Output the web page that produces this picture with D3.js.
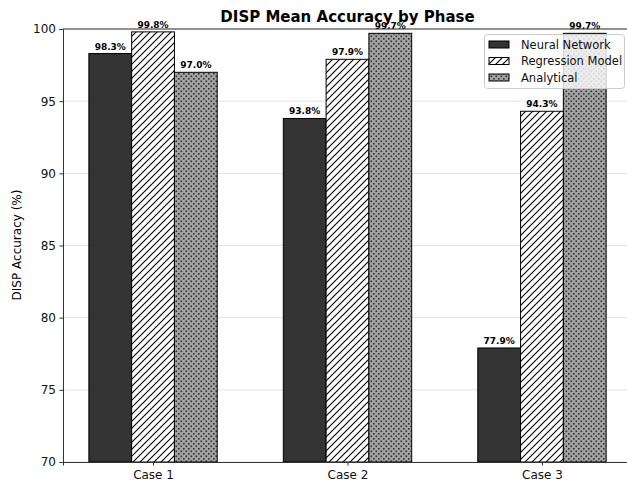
<!DOCTYPE html>
<html><head><meta charset="utf-8">
<script src="https://cdn.jsdelivr.net/npm/d3@7"></script>
<style>body{margin:0;background:#fff}svg{display:block;font-family:"DejaVu Sans",sans-serif}</style>
</head><body><svg id="c" width="627" height="483"></svg>
<script>
const categories = ["Case 1", "Case 2", "Case 3"];
const seriesNames = ["Neural Network", "Regression Model", "Analytical"];
const neuralNetwork = [98.3, 93.8, 77.9];
const regressionModel = [99.8, 97.9, 94.3];
const analytical = [97.0, 99.7, 99.7];
const yTicks = [70, 75, 80, 85, 90, 95, 100];
const series = [neuralNetwork, regressionModel, analytical];

const svg = d3.select("#c");
const defs = svg.append("defs");
const p1 = defs.append("pattern").attr("id","hatchDiag").attr("patternUnits","userSpaceOnUse")
  .attr("width",7).attr("height",7);
p1.append("rect").attr("width",7).attr("height",7).attr("fill","#fff");
p1.append("path").attr("d","M-1,1 L1,-1 M0,7 L7,0 M6,8 L8,6").attr("stroke","#000").attr("stroke-width",1.1);
const p2 = defs.append("pattern").attr("id","hatchDots").attr("patternUnits","userSpaceOnUse")
  .attr("width",5).attr("height",5);
p2.append("rect").attr("width",5).attr("height",5).attr("fill","#a3a3a3");
p2.append("rect").attr("x",0.5).attr("y",0.5).attr("width",1.6).attr("height",1.6).attr("fill","#303030");
p2.append("rect").attr("x",3).attr("y",3).attr("width",1.6).attr("height",1.6).attr("fill","#303030");
const fills = ["#333333", "url(#hatchDiag)", "url(#hatchDots)"];

const x = d3.scaleLinear().domain([-0.463, 2.463]).range([63, 632]);
const y = d3.scaleLinear().domain([70, 100]).range([462, 29]);
const bw = 0.22;

svg.append("g").selectAll("line").data(yTicks).join("line")
  .attr("x1",63).attr("x2",632).attr("y1",d=>y(d)).attr("y2",d=>y(d))
  .attr("stroke","#e4e4e4").attr("stroke-width",1);

series.forEach((vals, si) => {
  const g = svg.append("g");
  g.selectAll("rect").data(vals).join("rect")
    .attr("x", (d,i)=>x(i + (si-1)*bw - bw/2))
    .attr("width", x(bw)-x(0))
    .attr("y", d=>y(d))
    .attr("height", d=>y(70)-y(d))
    .attr("fill", fills[si]).attr("stroke","#000").attr("stroke-width",1);
  g.selectAll("text").data(vals).join("text")
    .attr("x",(d,i)=>x(i + (si-1)*bw))
    .attr("y", d=>y(d)-4)
    .attr("text-anchor","middle").attr("font-size",9).attr("font-weight","bold")
    .text(d=>d.toFixed(1)+"%");
});

const yAxis = d3.axisLeft(y).tickValues(yTicks).tickSize(3.5).tickPadding(3.5);
const ga = svg.append("g").attr("transform","translate(63,0)").call(yAxis);
ga.select(".domain").attr("stroke","#333");
ga.selectAll(".tick line").attr("stroke","#333");
ga.selectAll("text").attr("font-size",12).attr("fill","#111").attr("font-family","DejaVu Sans");

const xAxis = d3.axisBottom(x).tickValues([0,1,2]).tickFormat(i=>categories[i]).tickSize(3.5).tickPadding(5);
const gx = svg.append("g").attr("transform","translate(0,462)").call(xAxis);
gx.select(".domain").attr("stroke","#333");
gx.selectAll(".tick line").attr("stroke","#333");
gx.selectAll("text").attr("font-size",12).attr("fill","#111").attr("font-family","DejaVu Sans");

svg.append("line").attr("x1",63).attr("x2",632).attr("y1",29).attr("y2",29).attr("stroke","#333");

svg.append("text").attr("x",347.5).attr("y",22).attr("text-anchor","middle")
  .attr("font-size",15).attr("font-weight","bold").text("DISP Mean Accuracy by Phase");
svg.append("text").attr("transform","translate(21,245) rotate(-90)").attr("text-anchor","middle")
  .attr("font-size",12).text("DISP Accuracy (%)");

const lg = svg.append("g");
lg.append("rect").attr("x",484.5).attr("y",34.5).attr("width",140).attr("height",54).attr("rx",3)
  .attr("fill","#fff").attr("fill-opacity",0.8).attr("stroke","#ccc");
seriesNames.forEach((n,i)=>{
  const cy = 44.5 + i*16.5;
  lg.append("rect").attr("x",489).attr("y",cy-3.5).attr("width",20).attr("height",7)
    .attr("fill",fills[i]).attr("stroke","#000").attr("stroke-width",1);
  lg.append("text").attr("x",521).attr("y",cy+4.2).attr("font-size",11.5).attr("fill","#111").text(n);
});
</script></body></html>
